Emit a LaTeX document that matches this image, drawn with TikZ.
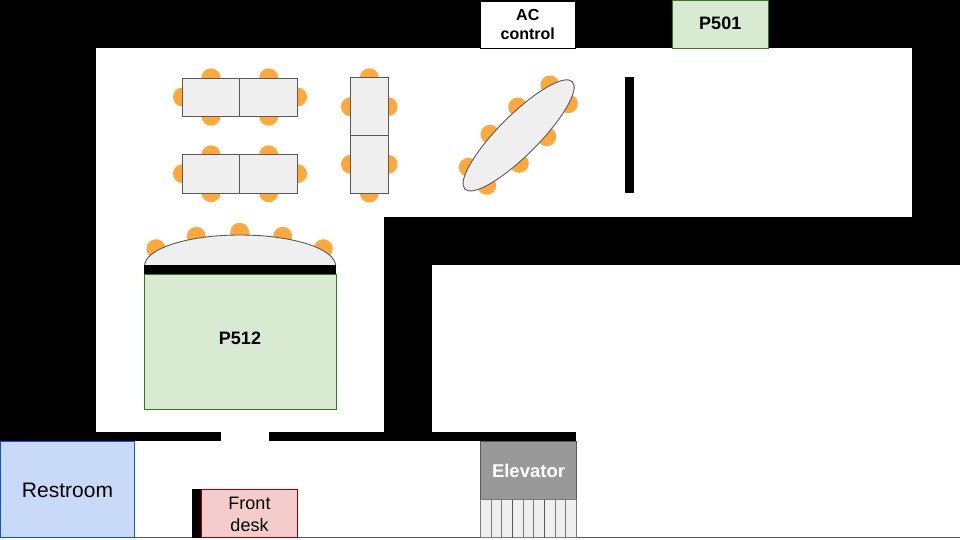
\documentclass[tikz,border=0pt]{standalone}
\usepackage{fontspec}
\setmainfont{Liberation Sans}
\definecolor{chair}{HTML}{FFA93C}
\definecolor{tbl}{HTML}{EFEFEF}
\definecolor{edge}{HTML}{595959}
\definecolor{grn}{HTML}{D9EAD3}
\definecolor{grnE}{HTML}{38761D}
\definecolor{blu}{HTML}{C9DAF8}
\definecolor{bluE}{HTML}{1155CC}
\definecolor{red1}{HTML}{F4CCCC}
\definecolor{redE}{HTML}{990000}
\definecolor{gry}{HTML}{999999}
\tikzset{
  wall/.style={fill=black,draw=none},
  floorarea/.style={fill=white,draw=none},
  seat/.style={fill=chair,draw=none},
  desk/.style={fill=tbl,draw=edge,line width=0.9pt},
  room/.style={fill=grn,draw=grnE,line width=0.9pt},
  lab/.style={align=center,inner sep=0pt,text=black},
}
\newcommand{\chairs}[1]{\foreach \px/\py in {#1}{\fill[seat] (\px,\py) circle[radius=9.5];}}
\begin{document}
\begin{tikzpicture}[x=1pt,y=-1pt]
\useasboundingbox (0,0) rectangle (960,540);
\fill[white] (0,0) rectangle (960,540);
% walls and floors
\fill[wall] (0,0) rectangle (960,441);
\fill[floorarea] (96,48) rectangle (912,217);
\fill[floorarea] (96,217) rectangle (384,432);
\fill[floorarea] (432,265) rectangle (960,441);
\fill[wall] (432,432) rectangle (576,441);
\fill[floorarea] (221,432) rectangle (269,441);
\draw[edge,line width=0.9pt] (0,537.5) -- (960,537.5);
% top boxes
\draw[fill=white,draw=black,line width=0.9pt] (480,1) rectangle node[lab,font=\bfseries\fontsize{16}{19}\selectfont] (ac) {AC\\control} (575.5,48);
\draw[room] (672.5,0.5) rectangle node[lab,font=\bfseries\fontsize{18}{21}\selectfont,yshift=1pt] (p501) {P501} (768,48);
% double tables
\chairs{211/77.8,268.7/77.8,211/116.2,268.7/116.2,182.5/97,297.5/97}
\draw[desk] (182.3,78.3) rectangle (239.4,116.3);
\draw[desk] (239.4,78.3) rectangle (297.3,116.3);
\chairs{211/154.8,268.7/154.8,211/192.8,268.7/192.8,182.5/173.7,297.5/173.7}
\draw[desk] (182.3,154.3) rectangle (239.4,193.3);
\draw[desk] (239.4,154.3) rectangle (297.3,193.3);
\chairs{369.3/77.8,369.3/193,350.5/106.7,388/106.7,350.5/164.3,388/164.3}
\draw[desk] (350.3,77.3) rectangle (388.3,135.3);
\draw[desk] (350.3,135.3) rectangle (388.3,193.3);
% slanted table
\chairs{550/85,568.3/103.7,517.7/107,546.7/136.7,490/134.3,519.3/163.3,468.3/167.3,486.7/185.3}
\draw[desk] (518.6,135.4) ellipse[x radius=76,y radius=20,rotate=45];
% vertical bar
\fill[wall] (624.5,77.3) rectangle (633.8,193.3);
% dome
\chairs{156/248.7,196.3/236.3,239.7/232.3,282.7/236.3,323.3/248.7}
\fill[tbl] (144.5,266) arc[start angle=180,end angle=360,x radius=95.6,y radius=31] -- cycle;
\draw[edge,line width=0.9pt] (144.5,266) arc[start angle=180,end angle=360,x radius=95.6,y radius=31];
\fill[wall] (144,265) rectangle (336.3,274.5);
\draw[room] (144.5,274.5) rectangle (336,409.5);
\node[lab,font=\bfseries\fontsize{18}{21}\selectfont] (p512) at (240,338) {P512};
% lower row
\draw[fill=blu,draw=bluE,line width=0.9pt] (0.5,441.5) rectangle node[lab,font=\fontsize{21}{24}\selectfont,yshift=-1pt] (rest) {Restroom} (134.5,537.5);
\fill[wall] (192,489) rectangle (201,537.5);
\draw[fill=red1,draw=redE,line width=0.9pt] (201.5,489.5) rectangle node[lab,font=\fontsize{18}{21.6}\selectfont,yshift=-1pt] (fd) {Front\\desk} (297.5,537.5);
% elevator
\draw[fill=gry,draw=edge,line width=0.9pt] (480.5,441.5) rectangle node[lab,font=\bfseries\fontsize{18.5}{21}\selectfont,text=white,yshift=-1pt] (elev) {Elevator} (576.5,499);
\foreach \gx in {480.5,512.5,544.5}{
  \foreach \gi in {0,1,2}{
    \draw[fill=tbl,draw=edge!80,line width=0.7pt] ({\gx+\gi*10.67},499.5) rectangle ({\gx+(\gi+1)*10.67},537.5);
  }
}
\foreach \gx in {512.5,544.5}{\draw[edge,line width=1.4pt] (\gx,499.5) -- (\gx,537.5);}
\end{tikzpicture}
\end{document}
